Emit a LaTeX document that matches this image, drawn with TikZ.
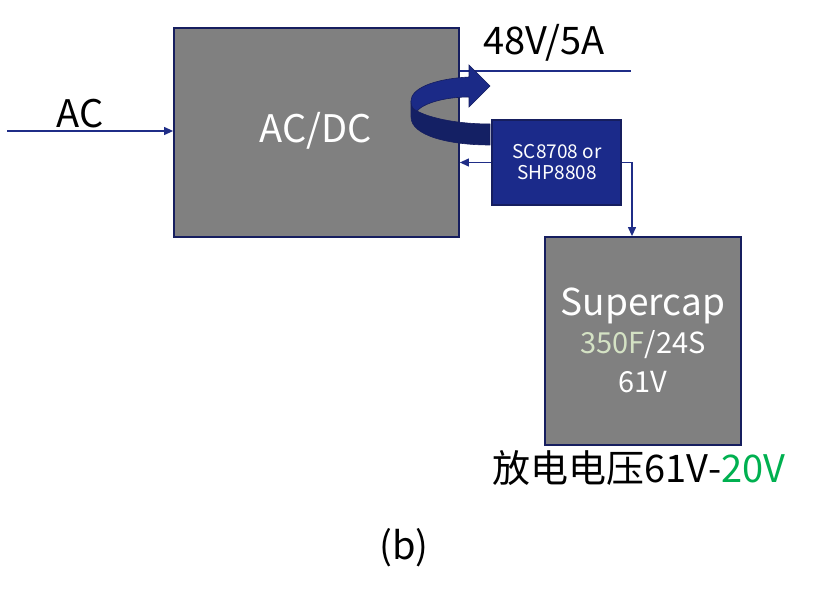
\documentclass[tikz,border=0pt]{standalone}
\usepackage{fontspec}
\setmainfont{Noto Sans CJK SC}
\usetikzlibrary{arrows.meta}
\definecolor{navy}{RGB}{31,45,135}
\definecolor{boxedge}{RGB}{22,30,95}
\definecolor{scfill}{RGB}{27,42,138}
\definecolor{ribtop}{RGB}{27,42,135}
\definecolor{ribfront}{RGB}{20,32,100}
\definecolor{greybox}{RGB}{128,128,128}
\definecolor{palegreen}{RGB}{212,226,196}
\definecolor{brightgreen}{RGB}{0,176,80}
\tikzset{
  graybox/.style={draw=boxedge, line width=1.8pt, fill=greybox, inner sep=0pt},
  chipbox/.style={draw=boxedge, line width=1.5pt, fill=scfill, inner sep=0pt},
  conn/.style={draw=navy, line width=1.2pt},
  tip/.style={-{Triangle[length=9pt,width=8pt]}},
  bigtxt/.style={font=\fontsize{38}{44}\selectfont, inner sep=0pt},
}
\begin{document}
\begin{tikzpicture}[x=1pt,y=-1pt]
\useasboundingbox (0,0) rectangle (815,594);
% boxes
\node[graybox, minimum width=285pt, minimum height=209pt] (acdc) at (316.5,132.5) {};
\node[graybox, minimum width=196pt, minimum height=208pt] (supercap) at (643,341) {};
% 48V output line
\coordinate (out48) at (631,71);
\draw[conn] (out48 -| acdc.east) -- (out48);
% ribbon arrow
\path[fill=ribfront, draw=boxedge, line width=0.6pt]
  (411,101) .. controls (411,107) and (413,109) .. (417,111)
  .. controls (432,119) and (460,124) .. (490,124)
  -- (490,145)
  .. controls (450,145) and (411,136) .. (411,117) -- cycle;
\path[fill=ribtop, draw=boxedge, line width=0.6pt]
  (469,77) -- (469,65) -- (490,86) -- (469,107) -- (469,97)
  .. controls (445,97) and (424,103) .. (417,111)
  .. controls (413,109) and (411,107) .. (411,101)
  .. controls (411,89) and (432,79) .. (469,77) -- cycle;
% SC chip box
\node[chipbox, minimum width=129pt, minimum height=85pt] (scbox) at (556.5,162.5) {};
\node[font=\fontsize{19}{21}\selectfont, text=white, align=center, inner sep=0pt] (sctext) at (557,162.5) {SC8708 or\\SHP8808};
% AC input
\coordinate (acin) at (7,131);
\draw[conn, tip] (acin) -- (acin -| acdc.west);
% feedback and supercap connectors
\draw[conn, tip] (scbox.west) -- (scbox.west -| acdc.east);
\coordinate (turn) at (632,162.5);
\draw[conn, tip] (scbox.east) -- (turn) -- (turn |- supercap.north);
% texts
\node[bigtxt] (actxt) at (80,114) {AC};
\node[bigtxt, text=white] (acdctxt) at (316,131) {AC/DC};
\node[bigtxt] (v48) at (544,43) {48V/5A};
\node[font=\fontsize{37}{44}\selectfont, inner sep=0pt, text=white] (sc1) at (643,306) {Supercap};
\node[font=\fontsize{29}{34}\selectfont, inner sep=0pt, text=white] (sc2) at (643,345) {\textcolor{palegreen}{350F}/24S};
\node[font=\fontsize{29}{34}\selectfont, inner sep=0pt, text=white] (sc3) at (643,382) {61V};
\node[bigtxt] (discharge) at (639,468) {放电电压61V-\textcolor{brightgreen}{20V}};
\node[bigtxt] (label) at (404,548) {(b)};
\end{tikzpicture}
\end{document}
